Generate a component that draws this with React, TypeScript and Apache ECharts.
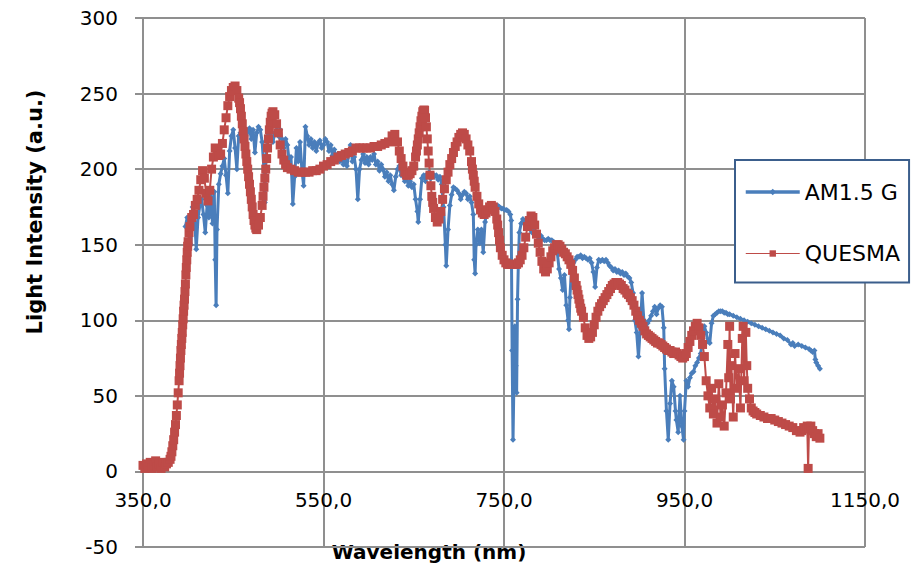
import React, { useEffect, useRef } from "react";
import * as echarts from "echarts";

// AM1.5 G reference spectrum (wavelength in nm, intensity in a.u.)
const amWavelength = [
  397, 399, 401, 403, 405, 407, 409, 411, 413, 415, 417, 419, 421, 423, 425, 427, 429, 430, 431, 432,
  434, 436, 438, 440, 442, 444, 446, 448, 450, 452, 454, 456, 458, 460, 462, 464, 466, 468, 470, 472,
  474, 476, 478, 480, 482, 484, 485, 486, 488, 490, 492, 494, 496, 498, 500, 502, 504, 506, 508, 510,
  512, 514, 516, 518, 520, 522, 524, 526, 528, 530, 532, 534, 536, 538, 540, 542, 544, 546, 548, 550,
  552, 554, 556, 558, 560, 562, 564, 566, 568, 570, 572, 574, 576, 578, 580, 582, 584, 586, 588, 590,
  592, 594, 596, 598, 600, 602, 604, 606, 608, 610, 612, 614, 616, 618, 620, 622, 624, 626, 628, 630,
  632, 634, 636, 638, 640, 642, 644, 646, 648, 650, 652, 654, 655, 657, 659, 661, 663, 665, 667, 669,
  671, 673, 675, 677, 679, 681, 683, 685, 686, 688, 690, 692, 694, 696, 698, 700, 702, 704, 706, 708,
  710, 712, 714, 716, 717, 718, 719, 721, 723, 725, 727, 729, 731, 733, 735, 737, 739, 741, 743, 745,
  747, 749, 751, 753, 755, 757, 758, 759, 760, 761, 762, 763, 764, 765, 766, 767, 769, 771, 773, 775,
  777, 779, 781, 783, 785, 787, 789, 791, 793, 795, 797, 799, 801, 803, 805, 807, 809, 811, 813, 815,
  817, 819, 821, 822, 823, 825, 827, 829, 831, 833, 835, 837, 839, 841, 843, 845, 847, 849, 851, 853,
  855, 857, 859, 861, 863, 865, 867, 869, 871, 873, 875, 877, 879, 881, 883, 885, 887, 889, 891, 893,
  895, 897, 899, 901, 903, 905, 907, 909, 911, 913, 915, 917, 919, 921, 923, 925, 927, 928, 930, 932,
  934, 936, 938, 940, 941, 943, 945, 947, 949, 950, 952, 954, 956, 958, 960, 962, 964, 966, 968, 970,
  972, 974, 976, 978, 980, 982, 984, 986, 988, 990, 992, 994, 996, 998, 1000, 1004, 1008, 1012, 1016, 1020,
  1024, 1028, 1032, 1036, 1040, 1044, 1048, 1052, 1056, 1060, 1064, 1068, 1070, 1072, 1076, 1080, 1084, 1088, 1090, 1092,
  1094, 1095, 1096, 1098, 1100,
];
const amIntensity = [
  162, 168, 166, 150, 175, 170, 147, 168, 176, 180, 170, 158, 176, 168, 186, 164, 185, 140, 110, 160,
  190, 197, 202, 207, 196, 184, 212, 222, 226, 214, 200, 222, 224, 220, 226, 218, 225, 227, 220, 226,
  211, 224, 228, 226, 218, 200, 178, 205, 222, 226, 222, 218, 224, 226, 222, 226, 220, 214, 220, 216,
  205, 208, 177, 195, 214, 205, 218, 200, 189, 228, 222, 216, 220, 214, 218, 212, 217, 219, 214, 216,
  220, 218, 212, 216, 209, 213, 206, 210, 205, 208, 203, 206, 202, 210, 216, 205, 208, 200, 180, 200,
  206, 210, 204, 208, 203, 208, 206, 210, 203, 205, 199, 203, 200, 195, 198, 192, 196, 190, 186, 195,
  200, 202, 196, 198, 192, 195, 189, 192, 188, 190, 180, 172, 165, 180, 194, 196, 192, 197, 198, 194,
  197, 195, 196, 193, 195, 190, 175, 150, 136, 160, 176, 183, 188, 187, 186, 184, 180, 183, 185, 184,
  180, 182, 178, 170, 140, 131, 150, 160, 151, 160, 145, 165, 173, 174, 176, 175, 176, 175, 176, 175,
  174, 174, 173, 173, 172, 170, 166, 80, 21, 60, 96, 70, 52, 114, 140, 158, 164, 167, 165, 164,
  162, 160, 158, 159, 157, 156, 155, 156, 154, 153, 153, 154, 153, 153, 152, 150, 145, 134, 128, 120,
  130, 110, 100, 94, 115, 136, 138, 140, 142, 142, 143, 141, 142, 141, 140, 141, 138, 132, 122, 135,
  140, 139, 140, 139, 140, 138, 136, 135, 133, 134, 132, 133, 131, 132, 130, 131, 129, 128, 125, 118,
  100, 92, 76, 95, 118, 100, 96, 98, 100, 103, 106, 109, 104, 108, 110, 109, 95, 68, 40, 21,
  45, 60, 56, 40, 34, 26, 50, 30, 21, 40, 60, 56, 62, 65, 66, 70, 72, 75, 78, 88,
  96, 92, 86, 85, 98, 103, 104, 105, 106, 106, 106, 105, 105, 104, 104, 103, 102, 101, 100, 99,
  98, 97, 96, 95, 94, 93, 92, 91, 90, 88, 87, 84, 85, 83, 84, 83, 82, 81, 80, 79,
  80, 74, 72, 70, 68,
];

// QUESMA simulator output (wavelength in nm, intensity in a.u.), ten readings per row
const quesmaWavelength = [
  350, 352, 354, 356, 358, 360, 362, 364, 366, 368,
  370, 372, 374, 376, 378, 380, 381, 382, 383, 384,
  385, 386, 387, 388, 389, 390, 390.5, 391, 391.5, 392,
  392.5, 393, 393.5, 394, 394.5, 395, 395.5, 396, 396.5, 397,
  397.5, 398, 398.5, 399, 399.5, 400, 401, 402, 404, 406,
  408, 410, 412, 414, 416, 418, 420, 422, 424, 426,
  428, 430, 432, 434, 436, 438, 440, 442, 444, 446,
  448, 450, 452, 454, 456, 457, 458, 459, 460, 461,
  462, 463, 464, 465, 466, 467, 468, 469, 470, 471,
  472, 473, 474, 475, 476, 478, 480, 482, 483, 484,
  485, 486, 487, 488, 489, 490, 491, 492, 493, 494,
  496, 498, 500, 502, 504, 506, 508, 510, 514, 518,
  522, 526, 530, 534, 538, 542, 546, 550, 554, 558,
  562, 566, 570, 574, 578, 582, 586, 590, 594, 598,
  602, 606, 610, 614, 618, 622, 626, 629, 632, 634,
  636, 638, 640, 642, 644, 646, 648, 650, 652, 653,
  654, 655, 656, 657, 658, 659, 660, 661, 662, 663,
  664, 665, 666, 667, 668, 669, 670, 671, 672, 674,
  676, 678, 680, 682, 684, 686, 688, 690, 692, 694,
  696, 698, 700, 702, 704, 706, 708, 710, 712, 714,
  715, 716, 717, 718, 720, 722, 724, 726, 728, 730,
  732, 734, 736, 738, 740, 742, 743, 744, 745, 746,
  748, 750, 752, 754, 756, 758, 760, 762, 764, 766,
  768, 770, 772, 774, 776, 778, 780, 782, 784, 786,
  788, 790, 792, 794, 796, 798, 800, 802, 804, 806,
  808, 810, 812, 814, 816, 818, 820, 822, 824, 826,
  828, 830, 831, 832, 833, 834, 835, 836, 838, 840,
  842, 844, 846, 848, 850, 852, 854, 856, 858, 860,
  862, 864, 866, 868, 870, 872, 874, 876, 878, 880,
  882, 884, 886, 888, 890, 892, 894, 896, 898, 900,
  902, 904, 906, 908, 910, 912, 914, 916, 918, 920,
  922, 924, 926, 928, 930, 932, 934, 936, 938, 940,
  942, 944, 946, 948, 950, 952, 954, 956, 958, 960,
  962, 964, 966, 968, 970, 972, 974, 976, 978, 980,
  982, 984, 986, 988, 990, 992, 994, 996, 998, 999,
  1000, 1001, 1002, 1004, 1006, 1008, 1010, 1012, 1014, 1015,
  1016, 1018, 1019, 1020, 1022, 1024, 1026, 1028, 1030, 1034,
  1038, 1042, 1046, 1050, 1054, 1058, 1062, 1066, 1070, 1074,
  1078, 1080, 1082, 1084, 1086, 1087, 1088, 1090, 1092, 1094,
  1096, 1098, 1100,
];
const quesmaIntensity = [
  4, 2, 5, 3, 6, 2, 4, 7, 3, 5,
  2, 6, 3, 5, 6, 8, 10, 13, 17, 21,
  26, 31, 37, 44, 52, 60, 65, 70, 75, 80,
  84, 88, 92, 97, 101, 106, 110, 114, 119, 124,
  130, 135, 140, 145, 149, 152, 158, 162, 168, 170,
  176, 180, 186, 193, 199, 194, 184, 179, 186, 200,
  208, 214, 213, 209, 210, 217, 226, 234, 242, 248,
  252, 254, 255, 252, 247, 244, 240, 235, 230, 225,
  220, 215, 210, 205, 200, 195, 190, 185, 180, 175,
  170, 166, 163, 161, 160, 163, 168, 176, 182, 188,
  194, 200, 207, 214, 220, 226, 231, 235, 237, 238,
  236, 230, 224, 216, 210, 206, 203, 201, 200, 199,
  198, 198, 198, 198, 199, 199, 200, 202, 203, 205,
  206, 208, 209, 210, 211, 212, 214, 214, 214, 214,
  214, 215, 215, 216, 217, 218, 222, 223, 218, 212,
  207, 202, 198, 196, 196, 197, 199, 202, 208, 212,
  216, 220, 224, 228, 232, 235, 238, 239, 239, 234,
  228, 220, 212, 204, 196, 189, 182, 178, 174, 168,
  165, 167, 172, 180, 187, 193, 198, 203, 207, 211,
  215, 218, 221, 223, 224, 223, 220, 216, 212, 205,
  200, 196, 192, 188, 182, 177, 173, 171, 170, 171,
  173, 175, 176, 175, 172, 167, 163, 158, 153, 148,
  143, 140, 138, 137, 137, 137, 137, 137, 137, 138,
  140, 143, 148, 155, 162, 166, 169, 168, 163, 157,
  151, 145, 139, 134, 132, 134, 138, 142, 146, 148,
  150, 150, 149, 147, 145, 144, 142, 140, 137, 133,
  128, 123, 120, 117, 114, 111, 108, 106, 102, 95,
  90, 88, 89, 92, 97, 102, 106, 109, 111, 113,
  115, 117, 119, 121, 123, 124, 125, 125, 124, 123,
  121, 120, 118, 117, 115, 113, 110, 106, 103, 100,
  98, 96, 93, 91, 90, 89, 88, 87, 86, 85,
  85, 84, 83, 82, 81, 80, 80, 79, 78, 79,
  78, 77, 76, 75, 76, 78, 82, 86, 90, 93,
  96, 98, 95, 90, 84, 76, 60, 50, 42, 55,
  38, 48, 32, 58, 36, 44, 30, 52, 84, 62,
  96, 48, 70, 36, 78, 55, 68, 42, 88, 96,
  60, 92, 70, 55, 48, 42, 40, 39, 38, 37,
  36, 35, 35, 34, 33, 32, 31, 30, 29, 27,
  26, 27, 29, 28, 30, 2, 29, 30, 27, 25,
  23, 25, 22,
];

// Axis tick values
const xTicks = [350, 550, 750, 950, 1150];
const yTicks = [-50, 0, 50, 100, 150, 200, 250, 300];

const seriesNames = ["AM1.5 G", "QUESMA"];
const FONT = '"DejaVu Sans", sans-serif';
const GRID_COLOR = "#8f8f8f";
const BLUE = "#4A7EBB";
const RED = "#BE4B48";

const GRID_TOP = 18;
const GRID_HEIGHT = 529;

export default function App() {
  const ref = useRef<HTMLDivElement>(null);

  useEffect(() => {
    if (!ref.current) return;
    const chart = echarts.init(ref.current, null, { renderer: "svg" });

    const amData = amWavelength.map((w, i) => [w, amIntensity[i]]);
    const quesmaData = quesmaWavelength.map((w, i) => [w, quesmaIntensity[i]]);

    // the horizontal axis sits on the y = 0 line, lifted from the grid bottom
    const yMin = yTicks[0];
    const yMax = yTicks[yTicks.length - 1];
    const zeroLift = ((0 - yMin) / (yMax - yMin)) * GRID_HEIGHT;

    chart.setOption({
      animation: false,
      backgroundColor: "#ffffff",
      grid: {
        left: 143,
        top: GRID_TOP,
        width: 722,
        height: GRID_HEIGHT,
        containLabel: false,
        outerBoundsMode: "none",
      },
      xAxis: {
        type: "value",
        min: xTicks[0],
        max: xTicks[xTicks.length - 1],
        interval: xTicks[1] - xTicks[0],
        offset: -zeroLift,
        axisLine: { show: true, onZero: false, lineStyle: { color: GRID_COLOR, width: 2 } },
        axisTick: { show: false },
        axisLabel: {
          margin: 19,
          color: "#000",
          fontFamily: FONT,
          fontSize: 20,
          formatter: (v: number) => v.toFixed(1).replace(".", ","),
        },
        splitLine: { show: true, lineStyle: { color: GRID_COLOR, width: 2 } },
      },
      yAxis: {
        type: "value",
        min: yMin,
        max: yMax,
        interval: yTicks[1] - yTicks[0],
        axisLine: { show: true, onZero: false, lineStyle: { color: GRID_COLOR, width: 2 } },
        axisTick: { show: true, length: 8, lineStyle: { color: GRID_COLOR, width: 2 } },
        axisLabel: { margin: 25, color: "#000", fontFamily: FONT, fontSize: 20 },
        splitLine: { show: true, lineStyle: { color: GRID_COLOR, width: 2 } },
      },
      legend: {
        data: [
          { name: seriesNames[0], lineStyle: { width: 3.5 } },
          { name: seriesNames[1], lineStyle: { width: 1 } },
        ],
        orient: "vertical",
        left: 735,
        top: 160,
        padding: [21, 9, 18, 9],
        itemWidth: 54,
        itemHeight: 8,
        itemGap: 39.5,
        backgroundColor: "#ffffff",
        borderColor: "#3B5E8C",
        borderWidth: 2,
        textStyle: { color: "#000", fontFamily: FONT, fontSize: 22, width: 94 },
      },
      graphic: [
        {
          type: "text",
          x: 35,
          y: 212,
          rotation: Math.PI / 2,
          style: {
            text: "Light Intensity (a.u.)",
            font: `bold 21px ${FONT}`,
            fill: "#000",
            textAlign: "center",
            textVerticalAlign: "middle",
          },
        },
        {
          type: "text",
          x: 429,
          y: 552,
          style: {
            text: "Wavelength (nm)",
            font: `bold 20px ${FONT}`,
            fill: "#000",
            textAlign: "center",
            textVerticalAlign: "middle",
          },
        },
      ],
      series: [
        {
          name: seriesNames[0],
          type: "line",
          data: amData,
          symbol: "diamond",
          symbolSize: 6,
          showAllSymbol: true,
          lineStyle: { color: BLUE, width: 3 },
          itemStyle: { color: BLUE },
          emphasis: { disabled: true },
        },
        {
          name: seriesNames[1],
          type: "line",
          data: quesmaData,
          symbol: "rect",
          symbolSize: 9,
          showAllSymbol: true,
          lineStyle: { color: RED, width: 2 },
          itemStyle: { color: RED },
          emphasis: { disabled: true },
        },
      ],
    });

    return () => chart.dispose();
  }, []);

  return <div ref={ref} style={{ width: 914, height: 569, position: "absolute", left: 0, top: 0 }} />;
}
